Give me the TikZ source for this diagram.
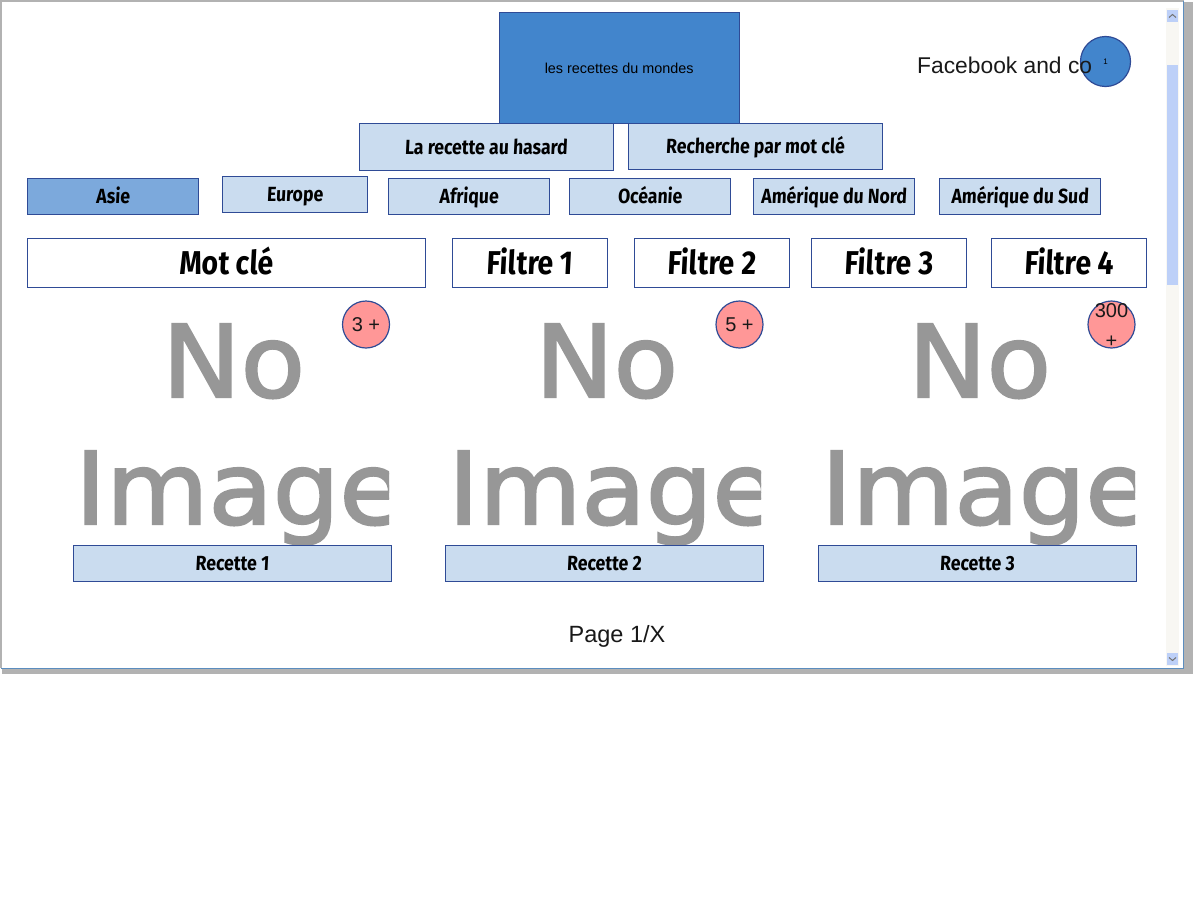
\documentclass[tikz,border=0pt]{standalone}
\usepackage{fontspec}
\setmainfont{Liberation Sans}
\newfontfamily\handfont[BoldFont={Fira Sans Bold},BoldFeatures={FakeSlant=0.05,FakeStretch=0.86},FakeSlant=0.05,FakeStretch=0.86]{Fira Sans}
\newfontfamily\noimg[FakeBold=2.2,FakeStretch=1.05]{DejaVu Sans}
\definecolor{edge}{HTML}{2F4B96}
\definecolor{lightbox}{HTML}{CADCEF}
\definecolor{midbox}{HTML}{7CA9DC}
\definecolor{darkbox}{HTML}{4285CC}
\definecolor{pinkc}{HTML}{FF9797}
\definecolor{noimgc}{HTML}{979797}
\definecolor{thumb}{HTML}{BDD0F8}
\definecolor{track}{HTML}{F8F7F3}
\definecolor{framec}{HTML}{5B8DBF}
\definecolor{shadowc}{HTML}{B2B2B2}
\tikzset{
 x=1pt,y=-1pt,
 pbox/.style n args={4}{draw=edge,line width=1.4pt,inner sep=0pt,anchor=north west,xshift=-0.5pt,yshift=1pt,minimum width=#3pt,minimum height=#4pt,text=black,execute at begin node={\vphantom{Ap}\rule{0pt}{0.9em}}},
 lightb/.style={fill=lightbox,font=\handfont\bfseries\fontsize{20.5}{22}\selectfont},
 filt/.style={fill=white,font=\handfont\bfseries\fontsize{33}{34}\selectfont},
 pinkb/.style={circle,draw=edge,fill=pinkc,line width=1.2pt,minimum size=47pt,inner sep=0pt,font=\fontsize{20}{23}\selectfont,text=black!90},
 noimgt/.style={inner sep=0pt,anchor=base west,text=noimgc,font=\noimg\fontsize{100}{100}\selectfont},
}
\begin{document}
\begin{tikzpicture}
\useasboundingbox (0,0) rectangle (1196,918);
% window
\fill[white] (0,0) rectangle (1196,918);
\fill[shadowc] (1184,2) rectangle (1193,674);
\fill[shadowc] (2,668) rectangle (1193,674);
\draw[shadowc,line width=2pt] (1,668) -- (1,1) -- (1184,1);
\draw[framec,line width=1pt] (1,668.5) -- (1183.5,668.5) -- (1183.5,0.5);
% scrollbar
\fill[track] (1166,8) rectangle (1179,666);
\fill[thumb] (1167,65) rectangle (1178,285);
\fill[thumb] (1167,10) rectangle (1178,22);
\fill[thumb] (1167,653) rectangle (1178,665);
\draw[black!55,line width=1pt] (1169,17.5) -- (1172.5,14.5) -- (1176,17.5);
\draw[black!55,line width=1pt] (1169,657.5) -- (1172.5,660.5) -- (1176,657.5);
% header
\node[pbox={}{}{240}{111},fill=darkbox,font=\fontsize{14.4}{16}\selectfont] (title) at (499,13) {les recettes du mondes};
\node[circle,draw=edge,fill=darkbox,line width=1.2pt,minimum size=50pt,inner sep=0pt,font=\fontsize{8}{9}\selectfont] (one) at (1105.5,61.5) {1};
\node[inner sep=0pt,anchor=base west,text=black!90,font=\fontsize{22.8}{28}\selectfont] (fb) at (917,73) {Facebook and co};
\node[pbox={}{}{254}{47},lightb] (hasard) at (359,124) {La recette au hasard};
\node[pbox={}{}{254}{46},lightb] (motcle) at (628,124) {Recherche par mot clé};
% continents
\node[pbox={}{}{171.5}{35.5},fill=midbox,font=\handfont\bfseries\fontsize{20.5}{22}\selectfont] (asie) at (27,179) {Asie};
\node[pbox={}{}{145.5}{35.5},lightb] (europe) at (222,177) {Europe};
\node[pbox={}{}{161.5}{35.5},lightb] (afrique) at (388,179) {Afrique};
\node[pbox={}{}{161.5}{35.5},lightb] (oceanie) at (569,179) {Océanie};
\node[pbox={}{}{161.5}{35.5},lightb] (nord) at (753,179) {Amérique du Nord};
\node[pbox={}{}{161.5}{35.5},lightb] (sud) at (939,179) {Amérique du Sud};
% filters
\node[pbox={}{}{398}{48.5},filt] (mot) at (27,239) {Mot clé};
\node[pbox={}{}{155.5}{48.5},filt] (f1) at (452,239) {Filtre 1};
\node[pbox={}{}{155.5}{48.5},filt] (f2) at (634,239) {Filtre 2};
\node[pbox={}{}{155.5}{48.5},filt] (f3) at (811,239) {Filtre 3};
\node[pbox={}{}{155.5}{48.5},filt] (f4) at (991,239) {Filtre 4};
% no image pictures
\begin{scope}
\clip (70,315) rectangle (389,548);
\node[noimgt] (noa) at (162,397) {No};
\node[noimgt] (ima) at (75,524) {Image};
\end{scope}
\begin{scope}
\clip (442,315) rectangle (761,548);
\node[noimgt] (nob) at (535,397) {No};
\node[noimgt] (imb) at (448,524) {Image};
\end{scope}
\begin{scope}
\clip (815,315) rectangle (1135,548);
\node[noimgt] (noc) at (908,397) {No};
\node[noimgt] (imc) at (821,524) {Image};
\end{scope}
\node[pinkb] (p1) at (366,324.5) {\raisebox{-1pt}{3 +}};
\node[pinkb] (p2) at (739.5,324.5) {\raisebox{-1pt}{5 +}};
\node[pinkb] (p3) at (1111.5,324.5) {\makebox[0pt]{\raisebox{0pt}[0pt][0pt]{\raisebox{-8.5pt}{\begin{tabular}{@{}c@{}}300\\[6.5pt]+\end{tabular}}}}};
% recipes
\node[pbox={}{}{318}{35.5},lightb] (r1) at (73,546) {Recette 1};
\node[pbox={}{}{318}{35.5},lightb] (r2) at (445,546) {Recette 2};
\node[pbox={}{}{318}{35.5},lightb] (r3) at (818,546) {Recette 3};
\node[inner sep=0pt,text=black!90,font=\fontsize{23.5}{28}\selectfont] (page) at (617,636) {Page 1/X};
\end{tikzpicture}
\end{document}
